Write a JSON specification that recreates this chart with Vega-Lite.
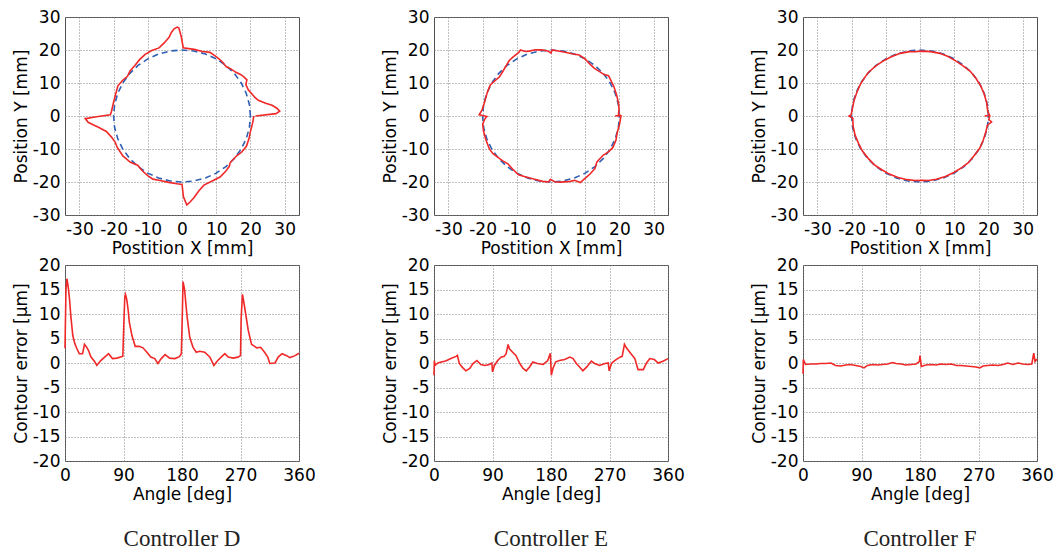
{
  "$schema": "https://vega.github.io/schema/vega-lite/v6.json",
  "background": "white",
  "padding": {"left": 11, "top": 7, "right": 5, "bottom": 0},
  "datasets": {
    "ref": [
      {"t":0,"x":20,"y":0},{"t":10,"x":19.7,"y":3.47},{"t":20,"x":18.79,"y":6.84},{"t":30,"x":17.32,"y":10},{"t":40,"x":15.32,"y":12.86},{"t":50,"x":12.86,"y":15.32},{"t":60,"x":10,"y":17.32},{"t":70,"x":6.84,"y":18.79},{"t":80,"x":3.47,"y":19.7},{"t":90,"x":0,"y":20},{"t":100,"x":-3.47,"y":19.7},{"t":110,"x":-6.84,"y":18.79},{"t":120,"x":-10,"y":17.32},{"t":130,"x":-12.86,"y":15.32},{"t":140,"x":-15.32,"y":12.86},{"t":150,"x":-17.32,"y":10},{"t":160,"x":-18.79,"y":6.84},{"t":170,"x":-19.7,"y":3.47},{"t":180,"x":-20,"y":0},{"t":190,"x":-19.7,"y":-3.47},{"t":200,"x":-18.79,"y":-6.84},{"t":210,"x":-17.32,"y":-10},{"t":220,"x":-15.32,"y":-12.86},{"t":230,"x":-12.86,"y":-15.32},{"t":240,"x":-10,"y":-17.32},{"t":250,"x":-6.84,"y":-18.79},{"t":260,"x":-3.47,"y":-19.7},{"t":270,"x":0,"y":-20},{"t":280,"x":3.47,"y":-19.7},{"t":290,"x":6.84,"y":-18.79},{"t":300,"x":10,"y":-17.32},{"t":310,"x":12.86,"y":-15.32},{"t":320,"x":15.32,"y":-12.86},{"t":330,"x":17.32,"y":-10},{"t":340,"x":18.79,"y":-6.84},{"t":350,"x":19.7,"y":-3.47},{"t":360,"x":20,"y":0}
    ],
    "traj": [
      {"c":"D","t":0,"x":21.5,"y":0},{"c":"D","t":1.5,"x":27.49,"y":0.72},{"c":"D","t":3,"x":28.56,"y":1.5},{"c":"D","t":5,"x":27.64,"y":2.42},{"c":"D","t":7,"x":26.3,"y":3.23},{"c":"D","t":9,"x":24.45,"y":3.87},{"c":"D","t":12,"x":22.3,"y":4.74},{"c":"D","t":15,"x":21.25,"y":5.69},{"c":"D","t":18,"x":20.45,"y":6.64},{"c":"D","t":22,"x":19.42,"y":7.85},{"c":"D","t":27,"x":18.67,"y":9.51},{"c":"D","t":30,"x":18.97,"y":10.95},{"c":"D","t":33,"x":18.16,"y":11.79},{"c":"D","t":36,"x":17.23,"y":12.52},{"c":"D","t":40,"x":15.78,"y":13.24},{"c":"D","t":45,"x":14.28,"y":14.28},{"c":"D","t":49,"x":12.96,"y":14.91},{"c":"D","t":55,"x":11.62,"y":16.59},{"c":"D","t":61,"x":9.99,"y":18.02},{"c":"D","t":67,"x":8.19,"y":19.28},{"c":"D","t":73,"x":5.98,"y":19.56},{"c":"D","t":80,"x":3.56,"y":20.19},{"c":"D","t":89,"x":0.36,"y":20.7},{"c":"D","t":90.5,"x":-0.21,"y":24},{"c":"D","t":92,"x":-0.93,"y":26.73},{"c":"D","t":93,"x":-1.41,"y":26.96},{"c":"D","t":95,"x":-2.31,"y":26.4},{"c":"D","t":97,"x":-3.11,"y":25.31},{"c":"D","t":99,"x":-3.78,"y":23.85},{"c":"D","t":103,"x":-5.13,"y":22.22},{"c":"D","t":108,"x":-6.71,"y":20.64},{"c":"D","t":114,"x":-8.83,"y":19.82},{"c":"D","t":120,"x":-10.78,"y":18.66},{"c":"D","t":126,"x":-12.4,"y":17.07},{"c":"D","t":132,"x":-13.78,"y":15.31},{"c":"D","t":138,"x":-15.2,"y":13.68},{"c":"D","t":143,"x":-15.93,"y":12.01},{"c":"D","t":148,"x":-17.34,"y":10.84},{"c":"D","t":154,"x":-18.74,"y":9.14},{"c":"D","t":161,"x":-19.38,"y":6.67},{"c":"D","t":169,"x":-20.07,"y":3.9},{"c":"D","t":176,"x":-20.6,"y":1.44},{"c":"D","t":179,"x":-20.95,"y":0.37},{"c":"D","t":180.5,"x":-25,"y":-0.22},{"c":"D","t":181.6,"x":-28.29,"y":-0.79},{"c":"D","t":184,"x":-27.43,"y":-1.92},{"c":"D","t":186,"x":-25.86,"y":-2.72},{"c":"D","t":188,"x":-24.41,"y":-3.43},{"c":"D","t":192,"x":-22.11,"y":-4.7},{"c":"D","t":197,"x":-20.66,"y":-6.32},{"c":"D","t":202,"x":-19.56,"y":-7.9},{"c":"D","t":207,"x":-18.89,"y":-9.62},{"c":"D","t":215,"x":-17.28,"y":-12.1},{"c":"D","t":223,"x":-15.07,"y":-14.05},{"c":"D","t":229,"x":-12.96,"y":-14.91},{"c":"D","t":235,"x":-11.62,"y":-16.59},{"c":"D","t":241,"x":-10.01,"y":-18.06},{"c":"D","t":246,"x":-8.52,"y":-19.14},{"c":"D","t":251,"x":-6.71,"y":-19.48},{"c":"D","t":259,"x":-3.91,"y":-20.12},{"c":"D","t":266,"x":-1.44,"y":-20.55},{"c":"D","t":270,"x":0,"y":-20.75},{"c":"D","t":271,"x":0.43,"y":-24.5},{"c":"D","t":273,"x":1.41,"y":-26.96},{"c":"D","t":275,"x":2.29,"y":-26.15},{"c":"D","t":278,"x":3.48,"y":-24.76},{"c":"D","t":282,"x":4.84,"y":-22.79},{"c":"D","t":287,"x":6.4,"y":-20.94},{"c":"D","t":295,"x":9.11,"y":-19.53},{"c":"D","t":301,"x":11.12,"y":-18.51},{"c":"D","t":307,"x":12.7,"y":-16.85},{"c":"D","t":312,"x":13.78,"y":-15.31},{"c":"D","t":315,"x":14.11,"y":-14.11},{"c":"D","t":323,"x":15.97,"y":-12.04},{"c":"D","t":328,"x":17.47,"y":-10.92},{"c":"D","t":334,"x":18.83,"y":-9.18},{"c":"D","t":341,"x":19.62,"y":-6.76},{"c":"D","t":346,"x":19.94,"y":-4.97},{"c":"D","t":354,"x":20.64,"y":-2.17},{"c":"D","t":360,"x":21,"y":0},
      {"c":"E","t":0,"x":18.75,"y":0},{"c":"E","t":0.5,"x":20.25,"y":0.18},{"c":"E","t":1.5,"x":19.74,"y":0.52},{"c":"E","t":6,"x":19.89,"y":2.09},{"c":"E","t":11,"x":19.73,"y":3.84},{"c":"E","t":18,"x":19.21,"y":6.24},{"c":"E","t":26,"x":18.38,"y":8.96},{"c":"E","t":34,"x":17.14,"y":11.56},{"c":"E","t":36,"x":16.81,"y":12.21},{"c":"E","t":39,"x":15.5,"y":12.55},{"c":"E","t":43,"x":14.33,"y":13.37},{"c":"E","t":49,"x":12.6,"y":14.49},{"c":"E","t":55,"x":11.16,"y":15.93},{"c":"E","t":60,"x":9.98,"y":17.28},{"c":"E","t":66,"x":8.24,"y":18.5},{"c":"E","t":72,"x":6.13,"y":18.88},{"c":"E","t":78,"x":4.11,"y":19.32},{"c":"E","t":85,"x":1.73,"y":19.77},{"c":"E","t":89,"x":0.35,"y":20},{"c":"E","t":90,"x":0,"y":19.1},{"c":"E","t":93,"x":-1.03,"y":19.72},{"c":"E","t":98,"x":-2.82,"y":20.05},{"c":"E","t":103,"x":-4.63,"y":20.07},{"c":"E","t":108,"x":-6.39,"y":19.66},{"c":"E","t":111,"x":-7.51,"y":19.56},{"c":"E","t":114,"x":-8.91,"y":20.01},{"c":"E","t":116,"x":-9.4,"y":19.28},{"c":"E","t":121,"x":-10.87,"y":18.09},{"c":"E","t":126,"x":-12.21,"y":16.81},{"c":"E","t":132,"x":-13.35,"y":14.83},{"c":"E","t":137,"x":-14.22,"y":13.26},{"c":"E","t":142,"x":-15.13,"y":11.82},{"c":"E","t":147,"x":-16.44,"y":10.67},{"c":"E","t":152,"x":-17.75,"y":9.44},{"c":"E","t":159,"x":-18.63,"y":7.15},{"c":"E","t":168,"x":-19.42,"y":4.13},{"c":"E","t":175,"x":-20.17,"y":1.76},{"c":"E","t":179,"x":-21,"y":0.37},{"c":"E","t":180.5,"x":-18.75,"y":-0.16},{"c":"E","t":183,"x":-19.42,"y":-1.02},{"c":"E","t":187,"x":-19.95,"y":-2.45},{"c":"E","t":193,"x":-19.73,"y":-4.56},{"c":"E","t":201,"x":-19,"y":-7.29},{"c":"E","t":209,"x":-18.02,"y":-9.99},{"c":"E","t":214,"x":-16.95,"y":-11.44},{"c":"E","t":219,"x":-15.5,"y":-12.55},{"c":"E","t":224,"x":-14.1,"y":-13.62},{"c":"E","t":229,"x":-12.6,"y":-14.49},{"c":"E","t":235,"x":-11.24,"y":-16.06},{"c":"E","t":242,"x":-9.48,"y":-17.84},{"c":"E","t":247,"x":-7.8,"y":-18.36},{"c":"E","t":255,"x":-5.11,"y":-19.08},{"c":"E","t":263,"x":-2.43,"y":-19.8},{"c":"E","t":268,"x":-0.7,"y":-19.99},{"c":"E","t":269.5,"x":-0.17,"y":-19.2},{"c":"E","t":273,"x":1.04,"y":-19.92},{"c":"E","t":278,"x":2.82,"y":-20.05},{"c":"E","t":286,"x":5.68,"y":-19.8},{"c":"E","t":289.5,"x":6.9,"y":-19.49},{"c":"E","t":293,"x":8.56,"y":-20.16},{"c":"E","t":296,"x":9.45,"y":-19.37},{"c":"E","t":303,"x":11.41,"y":-17.57},{"c":"E","t":309,"x":12.87,"y":-15.89},{"c":"E","t":314,"x":13.42,"y":-13.9},{"c":"E","t":322,"x":15.23,"y":-11.9},{"c":"E","t":327,"x":16.77,"y":-10.89},{"c":"E","t":332,"x":18.06,"y":-9.6},{"c":"E","t":339,"x":19,"y":-7.29},{"c":"E","t":345,"x":19.32,"y":-5.18},{"c":"E","t":353,"x":20.05,"y":-2.46},{"c":"E","t":360,"x":20.45,"y":0},
      {"c":"F","t":0,"x":18.9,"y":0},{"c":"F","t":0.5,"x":20.35,"y":0.18},{"c":"F","t":4,"x":19.8,"y":1.38},{"c":"F","t":12,"x":19.47,"y":4.14},{"c":"F","t":20,"x":18.7,"y":6.81},{"c":"F","t":27,"x":17.78,"y":9.06},{"c":"F","t":35,"x":16.34,"y":11.44},{"c":"F","t":43,"x":14.63,"y":13.64},{"c":"F","t":50,"x":12.69,"y":15.13},{"c":"F","t":58,"x":10.44,"y":16.71},{"c":"F","t":66,"x":8.05,"y":18.09},{"c":"F","t":73,"x":5.8,"y":18.98},{"c":"F","t":81,"x":3.09,"y":19.51},{"c":"F","t":89,"x":0.34,"y":19.65},{"c":"F","t":94,"x":-1.36,"y":19.45},{"c":"F","t":99,"x":-3.09,"y":19.51},{"c":"F","t":107,"x":-5.8,"y":18.98},{"c":"F","t":115,"x":-8.37,"y":17.94},{"c":"F","t":122,"x":-10.52,"y":16.83},{"c":"F","t":130,"x":-12.79,"y":15.24},{"c":"F","t":138,"x":-14.9,"y":13.42},{"c":"F","t":143,"x":-15.93,"y":12.01},{"c":"F","t":151,"x":-17.41,"y":9.65},{"c":"F","t":158,"x":-18.36,"y":7.42},{"c":"F","t":166,"x":-19.26,"y":4.8},{"c":"F","t":174,"x":-19.79,"y":2.08},{"c":"F","t":179,"x":-20.15,"y":0.35},{"c":"F","t":180,"x":-20.75,"y":0},{"c":"F","t":182,"x":-19.64,"y":-0.69},{"c":"F","t":189,"x":-19.56,"y":-3.1},{"c":"F","t":197,"x":-18.98,"y":-5.8},{"c":"F","t":205,"x":-17.94,"y":-8.37},{"c":"F","t":212,"x":-16.88,"y":-10.55},{"c":"F","t":220,"x":-15.21,"y":-12.76},{"c":"F","t":228,"x":-13.32,"y":-14.79},{"c":"F","t":236,"x":-11.04,"y":-16.37},{"c":"F","t":243,"x":-8.97,"y":-17.6},{"c":"F","t":251,"x":-6.41,"y":-18.63},{"c":"F","t":259,"x":-3.75,"y":-19.29},{"c":"F","t":266,"x":-1.37,"y":-19.55},{"c":"F","t":272,"x":0.68,"y":-19.49},{"c":"F","t":277,"x":2.4,"y":-19.55},{"c":"F","t":284,"x":4.78,"y":-19.16},{"c":"F","t":292,"x":7.42,"y":-18.36},{"c":"F","t":300,"x":9.88,"y":-17.1},{"c":"F","t":308,"x":12.22,"y":-15.64},{"c":"F","t":315,"x":14.14,"y":-14.14},{"c":"F","t":323,"x":15.85,"y":-11.95},{"c":"F","t":331,"x":17.49,"y":-9.7},{"c":"F","t":338,"x":18.45,"y":-7.45},{"c":"F","t":346,"x":19.26,"y":-4.8},{"c":"F","t":352,"x":19.71,"y":-2.77},{"c":"F","t":355,"x":20.92,"y":-1.83},{"c":"F","t":357,"x":20.12,"y":-1.05},{"c":"F","t":360,"x":20.4,"y":0}
    ],
    "err": [
      {"c":"D","a":0,"e":3.0},{"c":"D","a":1.5,"e":15},{"c":"D","a":3,"e":17.2},{"c":"D","a":5,"e":15.5},{"c":"D","a":7,"e":13},{"c":"D","a":9,"e":9.5},{"c":"D","a":12,"e":5.6},{"c":"D","a":15,"e":4.0},{"c":"D","a":18,"e":3.0},{"c":"D","a":22,"e":1.9},{"c":"D","a":27,"e":1.9},{"c":"D","a":30,"e":3.8},{"c":"D","a":33,"e":3.3},{"c":"D","a":36,"e":2.6},{"c":"D","a":40,"e":1.2},{"c":"D","a":45,"e":0.4},{"c":"D","a":49,"e":-0.5},{"c":"D","a":55,"e":0.5},{"c":"D","a":61,"e":1.2},{"c":"D","a":67,"e":1.9},{"c":"D","a":73,"e":0.9},{"c":"D","a":80,"e":1.0},{"c":"D","a":89,"e":1.4},{"c":"D","a":90.5,"e":8},{"c":"D","a":92,"e":13.5},{"c":"D","a":93,"e":14},{"c":"D","a":95,"e":13},{"c":"D","a":97,"e":11},{"c":"D","a":99,"e":8.3},{"c":"D","a":103,"e":5.6},{"c":"D","a":108,"e":3.4},{"c":"D","a":114,"e":3.4},{"c":"D","a":120,"e":3.1},{"c":"D","a":126,"e":2.2},{"c":"D","a":132,"e":1.2},{"c":"D","a":138,"e":0.9},{"c":"D","a":143,"e":-0.1},{"c":"D","a":148,"e":0.9},{"c":"D","a":154,"e":1.7},{"c":"D","a":161,"e":1.0},{"c":"D","a":169,"e":0.9},{"c":"D","a":176,"e":1.3},{"c":"D","a":179,"e":1.9},{"c":"D","a":180.5,"e":10},{"c":"D","a":181.6,"e":16.6},{"c":"D","a":184,"e":15},{"c":"D","a":186,"e":12},{"c":"D","a":188,"e":9.3},{"c":"D","a":192,"e":5.2},{"c":"D","a":197,"e":3.2},{"c":"D","a":202,"e":2.2},{"c":"D","a":207,"e":2.4},{"c":"D","a":215,"e":2.2},{"c":"D","a":223,"e":1.2},{"c":"D","a":229,"e":-0.5},{"c":"D","a":235,"e":0.5},{"c":"D","a":241,"e":1.3},{"c":"D","a":246,"e":1.9},{"c":"D","a":251,"e":1.2},{"c":"D","a":259,"e":1.0},{"c":"D","a":266,"e":1.2},{"c":"D","a":270,"e":1.5},{"c":"D","a":271,"e":9},{"c":"D","a":273,"e":14},{"c":"D","a":275,"e":12.5},{"c":"D","a":278,"e":10},{"c":"D","a":282,"e":6.6},{"c":"D","a":287,"e":3.8},{"c":"D","a":295,"e":3.1},{"c":"D","a":301,"e":3.2},{"c":"D","a":307,"e":2.2},{"c":"D","a":312,"e":1.2},{"c":"D","a":315,"e":-0.1},{"c":"D","a":323,"e":0},{"c":"D","a":328,"e":1.2},{"c":"D","a":334,"e":1.9},{"c":"D","a":341,"e":1.5},{"c":"D","a":346,"e":1.1},{"c":"D","a":354,"e":1.5},{"c":"D","a":360,"e":2.0},
      {"c":"E","a":0,"e":-2.5},{"c":"E","a":0.5,"e":0.5},{"c":"E","a":1.5,"e":-0.5},{"c":"E","a":6,"e":0},{"c":"E","a":11,"e":0.2},{"c":"E","a":18,"e":0.4},{"c":"E","a":26,"e":0.9},{"c":"E","a":34,"e":1.35},{"c":"E","a":36,"e":1.55},{"c":"E","a":39,"e":-0.1},{"c":"E","a":43,"e":-0.8},{"c":"E","a":49,"e":-1.6},{"c":"E","a":55,"e":-1.1},{"c":"E","a":60,"e":-0.1},{"c":"E","a":66,"e":0.5},{"c":"E","a":72,"e":-0.3},{"c":"E","a":78,"e":-0.5},{"c":"E","a":85,"e":-0.3},{"c":"E","a":89,"e":0},{"c":"E","a":90,"e":-1.8},{"c":"E","a":93,"e":-0.5},{"c":"E","a":98,"e":0.5},{"c":"E","a":103,"e":1.2},{"c":"E","a":108,"e":1.35},{"c":"E","a":111,"e":1.9},{"c":"E","a":114,"e":3.8},{"c":"E","a":116,"e":2.9},{"c":"E","a":121,"e":2.2},{"c":"E","a":126,"e":1.55},{"c":"E","a":132,"e":-0.1},{"c":"E","a":137,"e":-1.1},{"c":"E","a":142,"e":-1.6},{"c":"E","a":147,"e":-0.8},{"c":"E","a":152,"e":0.2},{"c":"E","a":159,"e":-0.1},{"c":"E","a":168,"e":-0.3},{"c":"E","a":175,"e":0.5},{"c":"E","a":179,"e":2.0},{"c":"E","a":180.5,"e":-2.5},{"c":"E","a":183,"e":-1.1},{"c":"E","a":187,"e":0.2},{"c":"E","a":193,"e":0.5},{"c":"E","a":201,"e":0.7},{"c":"E","a":209,"e":1.2},{"c":"E","a":214,"e":0.9},{"c":"E","a":219,"e":-0.1},{"c":"E","a":224,"e":-0.8},{"c":"E","a":229,"e":-1.6},{"c":"E","a":235,"e":-0.8},{"c":"E","a":242,"e":0.4},{"c":"E","a":247,"e":-0.1},{"c":"E","a":255,"e":-0.5},{"c":"E","a":263,"e":-0.1},{"c":"E","a":268,"e":0},{"c":"E","a":269.5,"e":-1.6},{"c":"E","a":273,"e":-0.1},{"c":"E","a":278,"e":0.5},{"c":"E","a":286,"e":1.2},{"c":"E","a":289.5,"e":1.35},{"c":"E","a":293,"e":3.8},{"c":"E","a":296,"e":3.1},{"c":"E","a":303,"e":1.9},{"c":"E","a":309,"e":0.9},{"c":"E","a":314,"e":-1.35},{"c":"E","a":322,"e":-1.35},{"c":"E","a":327,"e":0},{"c":"E","a":332,"e":0.9},{"c":"E","a":339,"e":0.7},{"c":"E","a":345,"e":0},{"c":"E","a":353,"e":0.4},{"c":"E","a":360,"e":0.9},
      {"c":"F","a":0,"e":-2.2},{"c":"F","a":0.5,"e":0.7},{"c":"F","a":4,"e":-0.3},{"c":"F","a":12,"e":-0.2},{"c":"F","a":20,"e":-0.2},{"c":"F","a":27,"e":-0.1},{"c":"F","a":35,"e":-0.1},{"c":"F","a":43,"e":0},{"c":"F","a":50,"e":-0.5},{"c":"F","a":58,"e":-0.6},{"c":"F","a":66,"e":-0.4},{"c":"F","a":73,"e":-0.3},{"c":"F","a":81,"e":-0.5},{"c":"F","a":89,"e":-0.7},{"c":"F","a":94,"e":-1.0},{"c":"F","a":99,"e":-0.5},{"c":"F","a":107,"e":-0.3},{"c":"F","a":115,"e":-0.4},{"c":"F","a":122,"e":-0.3},{"c":"F","a":130,"e":-0.2},{"c":"F","a":138,"e":0.1},{"c":"F","a":143,"e":-0.1},{"c":"F","a":151,"e":-0.2},{"c":"F","a":158,"e":-0.4},{"c":"F","a":166,"e":-0.3},{"c":"F","a":174,"e":-0.2},{"c":"F","a":179,"e":0.3},{"c":"F","a":180,"e":1.5},{"c":"F","a":182,"e":-0.7},{"c":"F","a":189,"e":-0.4},{"c":"F","a":197,"e":-0.3},{"c":"F","a":205,"e":-0.4},{"c":"F","a":212,"e":-0.2},{"c":"F","a":220,"e":-0.3},{"c":"F","a":228,"e":-0.2},{"c":"F","a":236,"e":-0.5},{"c":"F","a":243,"e":-0.5},{"c":"F","a":251,"e":-0.6},{"c":"F","a":259,"e":-0.7},{"c":"F","a":266,"e":-0.8},{"c":"F","a":272,"e":-1.0},{"c":"F","a":277,"e":-0.6},{"c":"F","a":284,"e":-0.5},{"c":"F","a":292,"e":-0.4},{"c":"F","a":300,"e":-0.5},{"c":"F","a":308,"e":-0.3},{"c":"F","a":315,"e":0},{"c":"F","a":323,"e":-0.3},{"c":"F","a":331,"e":0},{"c":"F","a":338,"e":-0.2},{"c":"F","a":346,"e":-0.3},{"c":"F","a":352,"e":-0.2},{"c":"F","a":355,"e":2.0},{"c":"F","a":357,"e":0.3},{"c":"F","a":360,"e":0.8}
    ]
  },
  "columns": 3,
  "bounds": "flush",
  "spacing": {"row": 50, "column": 135},
  "concat": [
    {"width": 234, "height": 198,
     "encoding": {"x": {"field": "x", "type": "quantitative", "scale": {"domain": [-34.2, 34.2], "nice": false, "zero": false}, "axis": {"values": [-30, -20, -10, 0, 10, 20, 30], "labelOverlap": false, "labelExpr": "datum.value < 0 ? '-' + (-datum.value) : '' + datum.value", "title": "Postition X [mm]"}}, "y": {"field": "y", "type": "quantitative", "scale": {"domain": [-30, 30], "nice": false, "zero": false}, "axis": {"values": [-30, -20, -10, 0, 10, 20, 30], "labelOverlap": false, "labelExpr": "datum.value < 0 ? '-' + (-datum.value) : '' + datum.value", "title": "Position Y [mm]"}}, "order": {"field": "t"}},
     "layer": [
      {"data": {"name": "ref"}, "mark": {"type": "line", "color": "#2f5fb3", "strokeDash": [6, 4], "strokeWidth": 1.6}},
      {"data": {"name": "traj"}, "transform": [{"filter": "datum.c == 'D'"}], "mark": {"type": "line", "color": "#f02828", "strokeWidth": 1.6}}
    ]},
    {"width": 234, "height": 198,
     "encoding": {"x": {"field": "x", "type": "quantitative", "scale": {"domain": [-34.2, 34.2], "nice": false, "zero": false}, "axis": {"values": [-30, -20, -10, 0, 10, 20, 30], "labelOverlap": false, "labelExpr": "datum.value < 0 ? '-' + (-datum.value) : '' + datum.value", "title": "Postition X [mm]"}}, "y": {"field": "y", "type": "quantitative", "scale": {"domain": [-30, 30], "nice": false, "zero": false}, "axis": {"values": [-30, -20, -10, 0, 10, 20, 30], "labelOverlap": false, "labelExpr": "datum.value < 0 ? '-' + (-datum.value) : '' + datum.value", "title": "Position Y [mm]"}}, "order": {"field": "t"}},
     "layer": [
      {"data": {"name": "ref"}, "mark": {"type": "line", "color": "#2f5fb3", "strokeDash": [6, 4], "strokeWidth": 1.6}},
      {"data": {"name": "traj"}, "transform": [{"filter": "datum.c == 'E'"}], "mark": {"type": "line", "color": "#f02828", "strokeWidth": 1.6}}
    ]},
    {"width": 234, "height": 198,
     "encoding": {"x": {"field": "x", "type": "quantitative", "scale": {"domain": [-34.2, 34.2], "nice": false, "zero": false}, "axis": {"values": [-30, -20, -10, 0, 10, 20, 30], "labelOverlap": false, "labelExpr": "datum.value < 0 ? '-' + (-datum.value) : '' + datum.value", "title": "Postition X [mm]"}}, "y": {"field": "y", "type": "quantitative", "scale": {"domain": [-30, 30], "nice": false, "zero": false}, "axis": {"values": [-30, -20, -10, 0, 10, 20, 30], "labelOverlap": false, "labelExpr": "datum.value < 0 ? '-' + (-datum.value) : '' + datum.value", "title": "Position Y [mm]"}}, "order": {"field": "t"}},
     "layer": [
      {"data": {"name": "ref"}, "mark": {"type": "line", "color": "#2f5fb3", "strokeDash": [6, 4], "strokeWidth": 1.6}},
      {"data": {"name": "traj"}, "transform": [{"filter": "datum.c == 'F'"}], "mark": {"type": "line", "color": "#f02828", "strokeWidth": 1.6}}
    ]},
    {"width": 234, "height": 196, "data": {"name": "err"}, "transform": [{"filter": "datum.c == 'D'"}],
     "title": {"text": "Controller D", "orient": "bottom", "anchor": "middle", "offset": 26, "font": "Liberation Serif", "fontSize": 23, "fontWeight": "normal", "color": "#222222"},
     "mark": {"type": "line", "color": "#f02828", "strokeWidth": 1.6},
     "encoding": {"x": {"field": "a", "type": "quantitative", "scale": {"domain": [0, 360], "nice": false}, "axis": {"values": [0, 90, 180, 270, 360], "labelOverlap": false, "title": "Angle [deg]"}}, "y": {"field": "e", "type": "quantitative", "scale": {"domain": [-20, 20], "nice": false}, "axis": {"values": [-20, -15, -10, -5, 0, 5, 10, 15, 20], "labelOverlap": false, "labelExpr": "datum.value < 0 ? '-' + (-datum.value) : '' + datum.value", "title": "Contour error [μm]"}}, "order": {"field": "a"}}},
    {"width": 234, "height": 196, "data": {"name": "err"}, "transform": [{"filter": "datum.c == 'E'"}],
     "title": {"text": "Controller E", "orient": "bottom", "anchor": "middle", "offset": 26, "font": "Liberation Serif", "fontSize": 23, "fontWeight": "normal", "color": "#222222"},
     "mark": {"type": "line", "color": "#f02828", "strokeWidth": 1.6},
     "encoding": {"x": {"field": "a", "type": "quantitative", "scale": {"domain": [0, 360], "nice": false}, "axis": {"values": [0, 90, 180, 270, 360], "labelOverlap": false, "title": "Angle [deg]"}}, "y": {"field": "e", "type": "quantitative", "scale": {"domain": [-20, 20], "nice": false}, "axis": {"values": [-20, -15, -10, -5, 0, 5, 10, 15, 20], "labelOverlap": false, "labelExpr": "datum.value < 0 ? '-' + (-datum.value) : '' + datum.value", "title": "Contour error [μm]"}}, "order": {"field": "a"}}},
    {"width": 234, "height": 196, "data": {"name": "err"}, "transform": [{"filter": "datum.c == 'F'"}],
     "title": {"text": "Controller F", "orient": "bottom", "anchor": "middle", "offset": 26, "font": "Liberation Serif", "fontSize": 23, "fontWeight": "normal", "color": "#222222"},
     "mark": {"type": "line", "color": "#f02828", "strokeWidth": 1.6},
     "encoding": {"x": {"field": "a", "type": "quantitative", "scale": {"domain": [0, 360], "nice": false}, "axis": {"values": [0, 90, 180, 270, 360], "labelOverlap": false, "title": "Angle [deg]"}}, "y": {"field": "e", "type": "quantitative", "scale": {"domain": [-20, 20], "nice": false}, "axis": {"values": [-20, -15, -10, -5, 0, 5, 10, 15, 20], "labelOverlap": false, "labelExpr": "datum.value < 0 ? '-' + (-datum.value) : '' + datum.value", "title": "Contour error [μm]"}}, "order": {"field": "a"}}}
  ],
  "config": {
    "view": {"stroke": "#505050", "strokeWidth": 1},
    "axis": {"labelFont": "DejaVu Sans", "labelFontSize": 17, "labelColor": "#000000", "titleFont": "DejaVu Sans", "titleFontSize": 17, "titleFontWeight": "normal", "titleColor": "#000000", "domain": false, "ticks": false, "labelFlush": false, "labelOverlap": false, "gridColor": "#808080", "gridDash": [1, 2], "gridOpacity": 1, "gridWidth": 1, "labelPadding": 5, "titlePadding": 2},
    "axisX": {"labelPadding": 6, "titlePadding": 3}
  }
}
